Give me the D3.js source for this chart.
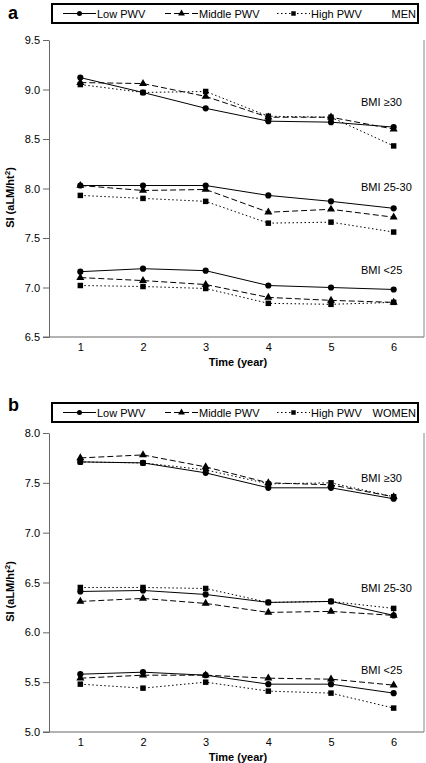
<!DOCTYPE html>
<html><head><meta charset="utf-8">
<script src="https://cdn.jsdelivr.net/npm/d3@7"></script>
<style>body{margin:0;background:#fff}svg{display:block;font-family:"Liberation Sans",Arial,sans-serif}</style>
</head><body><svg id="c" width="426" height="763"></svg>
<script>
const years = [1, 2, 3, 4, 5, 6];
const seriesNames = ["Low PWV", "Middle PWV", "High PWV"];
const groupLabels = ["BMI \u226530", "BMI 25-30", "BMI <25"];

// MEN
const menLow30 = [9.12, 8.97, 8.81, 8.68, 8.67, 8.62];
const menMid30 = [9.07, 9.06, 8.93, 8.72, 8.72, 8.60];
const menHigh30 = [9.05, 8.97, 8.98, 8.73, 8.72, 8.43];
const menLow25 = [8.03, 8.03, 8.03, 7.93, 7.87, 7.80];
const menMid25 = [8.03, 7.98, 7.99, 7.76, 7.79, 7.71];
const menHigh25 = [7.93, 7.90, 7.87, 7.65, 7.66, 7.56];
const menLowLt = [7.16, 7.19, 7.17, 7.02, 7.00, 6.98];
const menMidLt = [7.10, 7.07, 7.03, 6.90, 6.87, 6.85];
const menHighLt = [7.02, 7.01, 6.99, 6.84, 6.83, 6.85];
const menTicks = [6.5, 7.0, 7.5, 8.0, 8.5, 9.0, 9.5];

// WOMEN
const womenLow30 = [7.71, 7.70, 7.60, 7.45, 7.45, 7.34];
const womenMid30 = [7.75, 7.78, 7.66, 7.50, 7.48, 7.36];
const womenHigh30 = [7.71, 7.70, 7.63, 7.49, 7.50, 7.36];
const womenLow25 = [6.41, 6.42, 6.38, 6.30, 6.31, 6.17];
const womenMid25 = [6.31, 6.34, 6.29, 6.20, 6.21, 6.17];
const womenHigh25 = [6.45, 6.45, 6.44, 6.30, 6.31, 6.24];
const womenLowLt = [5.58, 5.60, 5.57, 5.48, 5.48, 5.39];
const womenMidLt = [5.54, 5.57, 5.57, 5.54, 5.53, 5.47];
const womenHighLt = [5.48, 5.44, 5.50, 5.41, 5.39, 5.24];
const womenTicks = [5.0, 5.5, 6.0, 6.5, 7.0, 7.5, 8.0];

const panels = [
  {letter:"a", sex:"MEN", domain:[6.5,9.5], ticks:menTicks,
   groups:[[menLow30,menMid30,menHigh30],[menLow25,menMid25,menHigh25],[menLowLt,menMidLt,menHighLt]]},
  {letter:"b", sex:"WOMEN", domain:[5.0,8.0], ticks:womenTicks,
   groups:[[womenLow30,womenMid30,womenHigh30],[womenLow25,womenMid25,womenHigh25],[womenLowLt,womenMidLt,womenHighLt]]}
];

const svg = d3.select("#c");
const dashes = [null, "6,3", "1.5,2.5"];
const shapes = [d3.symbolCircle, d3.symbolTriangle, d3.symbolSquare];
const sizes = [30, 28, 30];

function marker(g, i, x, y, s){
  g.append("path").attr("d", d3.symbol().type(shapes[i]).size(s || sizes[i])())
   .attr("transform", `translate(${x},${y})`).attr("fill","#000");
}

panels.forEach((p, pi) => {
  const g = svg.append("g");
  const x = d3.scaleLinear().domain([0.5, 6.5]).range([49, 425]);
  const y = d3.scaleLinear().domain(p.domain).range(pi===0 ? [337, 40] : [732, 433]);

  g.append("text").attr("x", 8).attr("y", pi===0 ? 19 : 411).text(p.letter)
   .attr("font-size", 18).attr("font-weight", "bold");

  const ly = pi===0 ? 4 : 403;
  g.append("rect").attr("x", 52).attr("y", ly).attr("width", 366).attr("height", 19)
   .attr("fill", "none").attr("stroke", "#000").attr("stroke-width", 2);
  const lx = [63, 165, 277];
  seriesNames.forEach((n, i) => {
    const cy = ly + 9.5;
    g.append("line").attr("x1", lx[i]).attr("x2", lx[i]+33).attr("y1", cy).attr("y2", cy)
     .attr("stroke", "#000").attr("stroke-width", 1).attr("stroke-dasharray", dashes[i]);
    marker(g, i, lx[i]+16.5, cy, 20);
    g.append("text").attr("x", lx[i]+34).attr("y", cy+4).text(n).attr("font-size", 11);
  });
  g.append("text").attr("x", 416).attr("y", ly + 13.5).attr("text-anchor", "end")
   .text(p.sex).attr("font-size", 11);

  const ya = d3.axisLeft(y).tickValues(p.ticks).tickFormat(d3.format(".1f")).tickSize(6).tickSizeOuter(0);
  const yg = g.append("g").attr("transform", "translate(49,0)").call(ya);
  yg.select(".domain").attr("stroke", "#666");
  yg.selectAll(".tick line").attr("stroke", "#666");
  yg.selectAll("text").attr("font-size", 11).attr("fill", "#000").attr("font-family", "Liberation Sans, Arial, sans-serif");

  const xa = d3.axisBottom(x).tickValues(years).tickFormat(d3.format("d")).tickSize(0).tickPadding(6);
  const xg = g.append("g").attr("transform", `translate(0,${y(p.domain[0])})`).call(xa);
  xg.select(".domain").remove();
  xg.selectAll("text").attr("font-size", 11).attr("fill", "#000").attr("font-family", "Liberation Sans, Arial, sans-serif");
  g.append("line").attr("x1", 43).attr("x2", 424).attr("y1", y(p.domain[0])).attr("y2", y(p.domain[0])).attr("stroke", "#666");
  g.append("line").attr("x1", 424).attr("x2", 424).attr("y1", y(p.domain[1])).attr("y2", y(p.domain[0])).attr("stroke", "#888");

  g.append("text").attr("x", 238).attr("y", y(p.domain[0]) + 29).attr("text-anchor", "middle")
   .text("Time (year)").attr("font-size", 11).attr("font-weight", "bold");

  const yc = (y.range()[0] + y.range()[1]) / 2 + 9;
  const yt = g.append("text").attr("transform", `translate(14,${yc}) rotate(-90)`).attr("text-anchor", "middle")
   .attr("font-size", 11).attr("font-weight", "bold");
  yt.append("tspan").text("SI (aLM/ht");
  yt.append("tspan").text("2").attr("font-size", 8).attr("dy", -4);
  yt.append("tspan").text(")").attr("dy", 4);

  const line = d3.line().x((d, i) => x(years[i])).y(d => y(d));
  p.groups.forEach((grp) => {
    grp.forEach((vals, si) => {
      g.append("path").datum(vals).attr("d", line).attr("fill", "none").attr("stroke", "#000")
       .attr("stroke-width", 1).attr("stroke-dasharray", dashes[si]);
    });
    grp.forEach((vals, si) => {
      vals.forEach((v, i) => marker(g, si, x(years[i]), y(v)));
    });
  });

  const lbY = pi===0 ? [106, 191, 274] : [482, 592, 674];
  groupLabels.forEach((t, gi) => {
    g.append("text").attr("x", 361).attr("y", lbY[gi]).text(t).attr("font-size", 11);
  });
});
</script></body></html>
